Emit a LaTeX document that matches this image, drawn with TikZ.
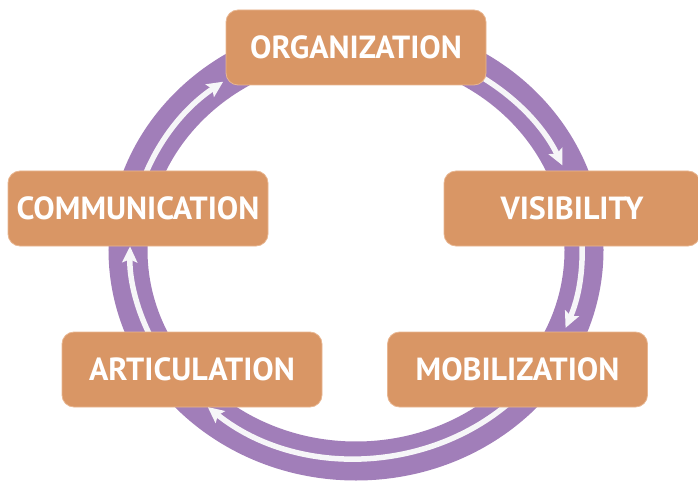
\documentclass[tikz,border=0pt]{standalone}
\usepackage{fontspec}
\setmainfont{PT Sans}
\usetikzlibrary{arrows.meta}
\definecolor{ringc}{RGB}{161,126,185}
\definecolor{boxfill}{RGB}{217,150,101}
\definecolor{boxline}{RGB}{232,182,145}
\definecolor{arrowc}{RGB}{246,246,248}
\begin{document}
\begin{tikzpicture}[x=1pt,y=-1pt,
  stagebox/.style={fill=boxfill, draw=boxline, line width=0.8pt, rounded corners=12pt,
    minimum width=260pt, minimum height=75pt, inner sep=0pt, text=white,
    font=\fontsize{32}{35}\selectfont\bfseries},
  cyc/.style={draw=arrowc, line width=5.5pt, -{Stealth[length=16pt,width=15pt,inset=3pt]}}]
\useasboundingbox (0,0) rectangle (698,481);
\coordinate (c) at (356,250);
\draw[ringc, line width=39pt] (c) ellipse [x radius=228, y radius=211];
% white cycle arrows
\draw[cyc] ([shift={(c)}] -66:226 and 208) arc[start angle=-66, end angle=-24, x radius=226, y radius=208];
\draw[cyc] ([shift={(c)}] -10:226 and 208) arc[start angle=-10, end angle=22, x radius=226, y radius=208];
\draw[cyc] ([shift={(c)}] 44:226 and 208) arc[start angle=44, end angle=131, x radius=226, y radius=208];
\draw[cyc] ([shift={(c)}] 150:226 and 208) arc[start angle=150, end angle=181, x radius=226, y radius=208];
\draw[cyc] ([shift={(c)}] 190:226 and 208) arc[start angle=190, end angle=234, x radius=226, y radius=208];
% stages
\node[stagebox] (org) at (356,47.5) {ORGANIZATION};
\node[stagebox, minimum width=256pt] (vis) at (572,208.5) {VISIBILITY};
\node[stagebox] (mob) at (517.5,369.5) {MOBILIZATION};
\node[stagebox] (art) at (192,369.5) {ARTICULATION};
\node[stagebox] (com) at (138,208.5) {COMMUNICATION};
\end{tikzpicture}
\end{document}
